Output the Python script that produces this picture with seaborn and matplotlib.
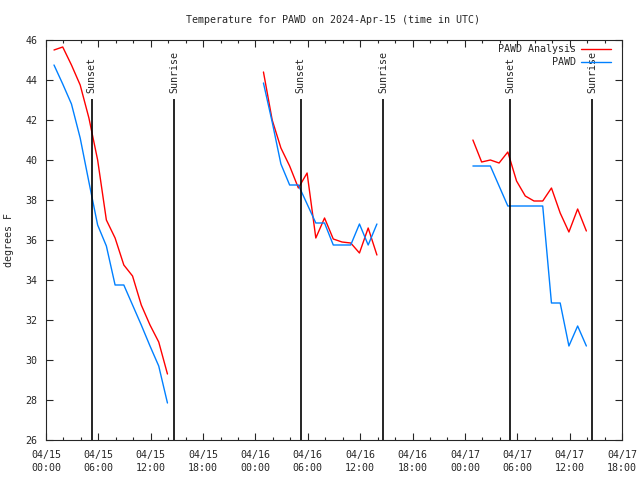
import numpy as np
import pandas as pd
import seaborn as sns
import matplotlib.pyplot as plt
import matplotlib.dates as mdates

# hourly observation start times of the three data chunks
seg_starts = ["2024-04-15 00:55", "2024-04-16 00:55", "2024-04-17 00:55"]

analysis_1 = [45.5, 45.65, 44.75, 43.75, 42.1, 40.0, 37.0, 36.1, 34.75, 34.2, 32.75, 31.75, 30.9, 29.3]
pawd_1 = [44.75, 43.8, 42.8, 41.1, 38.9, 36.75, 35.7, 33.75, 33.75, 32.75, 31.75, 30.7, 29.7, 27.85]

analysis_2 = [44.4, 42.0, 40.6, 39.7, 38.6, 39.35, 36.1, 37.1, 36.05, 35.9, 35.85, 35.35, 36.6, 35.25]
pawd_2 = [43.85, 41.9, 39.8, 38.75, 38.75, 37.8, 36.85, 36.85, 35.75, 35.75, 35.75, 36.8, 35.75, 36.8]

analysis_3 = [41.0, 39.9, 40.0, 39.85, 40.4, 38.95, 38.2, 37.95, 37.95, 38.6, 37.35, 36.4, 37.55, 36.45]
pawd_3 = [39.7, 39.7, 39.7, 38.7, 37.7, 37.7, 37.7, 37.7, 37.7, 32.85, 32.85, 30.7, 31.7, 30.7]

sunsets = ["2024-04-15 05:13", "2024-04-16 05:10", "2024-04-17 05:12"]
sunrises = ["2024-04-15 14:42", "2024-04-16 14:38", "2024-04-17 14:36"]

# build long-form table
rows = []
for seg, (start, an, ob) in enumerate(zip(seg_starts,
                                          [analysis_1, analysis_2, analysis_3],
                                          [pawd_1, pawd_2, pawd_3])):
    times = pd.date_range(start, periods=len(an), freq="h")
    for t, v in zip(times, an):
        rows.append({"time": t, "temp": v, "series": "PAWD Analysis", "seg": seg})
    for t, v in zip(times, ob):
        rows.append({"time": t, "temp": v, "series": "PAWD", "seg": seg})
df = pd.DataFrame(rows)

sns.set_style("ticks")
plt.rcParams["font.family"] = ["DejaVu Sans Mono"]
plt.rcParams["font.size"] = 7.2

fig = plt.figure(figsize=(6.4, 4.8), dpi=100)
ax = fig.add_axes([46 / 640, 40 / 480, 576 / 640, 400 / 480])

palette = {"PAWD Analysis": "#ff0000", "PAWD": "#0080ff"}
sns.lineplot(data=df, x="time", y="temp", hue="series", units="seg",
             estimator=None, palette=palette,
             hue_order=["PAWD Analysis", "PAWD"], linewidth=1.0, ax=ax)

# sunset / sunrise markers
for label, tlist in [("Sunset", sunsets), ("Sunrise", sunrises)]:
    for t in pd.to_datetime(tlist):
        ax.vlines(t, 26, 43.05, color="black", linewidth=1.2)
        ax.text(t, 43.35, label, rotation=90, ha="center", va="bottom", fontsize=7.2)

ax.set_xlim(pd.Timestamp("2024-04-15 00:00"), pd.Timestamp("2024-04-17 18:00"))
ax.set_ylim(26, 46)
ax.set_yticks(np.arange(26, 47, 2))
ax.xaxis.set_major_locator(mdates.HourLocator(byhour=[0, 6, 12, 18]))
ax.xaxis.set_minor_locator(mdates.HourLocator(byhour=range(0, 24, 2)))
ax.xaxis.set_major_formatter(mdates.DateFormatter("%m/%d\n%H:%M"))

ax.tick_params(which="both", direction="in", top=True, right=True, labelsize=7.2)
ax.tick_params(which="major", length=5, width=0.8)
ax.tick_params(which="minor", length=2.5, width=0.8)
ax.tick_params(axis="x", which="major", pad=7)
ax.tick_params(axis="y", which="major", pad=6)
for sp in ax.spines.values():
    sp.set_linewidth(0.8)

ax.set_xlabel("")
ax.set_ylabel("degrees F", fontsize=7.2)
ax.yaxis.set_label_coords(-0.055, 0.5)

fig.canvas.draw()
for lbl in ax.get_xticklabels():
    lbl.set_linespacing(1.45)

handles, labels = ax.get_legend_handles_labels()
ax.legend(handles, labels, loc="upper right", markerfirst=False, frameon=False,
          fontsize=7.2, handlelength=3.0, handletextpad=0.5, labelspacing=0.25,
          borderpad=0, borderaxespad=0,
          bbox_to_anchor=(611 / 640, 1 - 44.5 / 480), bbox_transform=fig.transFigure)

fig.text(333 / 640, 1 - 20 / 480, "Temperature for PAWD on 2024-Apr-15 (time in UTC)",
         ha="center", va="center", fontsize=7.2)

plt.savefig("out.png", dpi=100)
plt.close(fig)
